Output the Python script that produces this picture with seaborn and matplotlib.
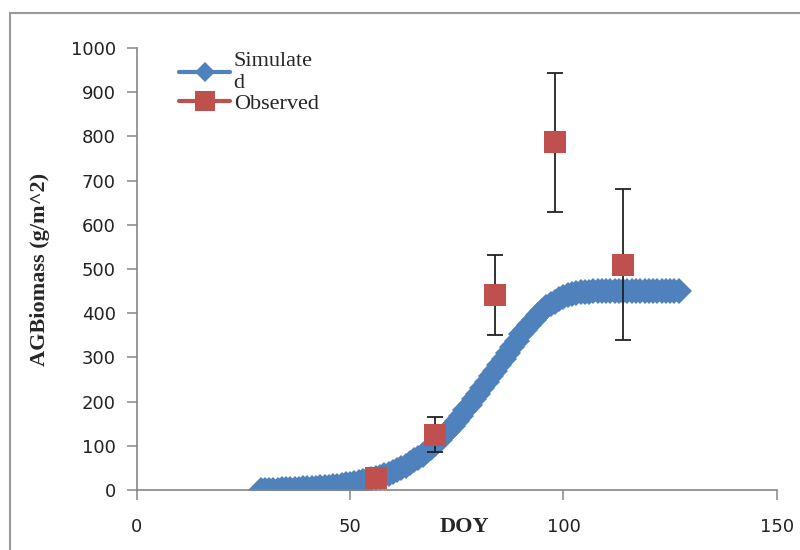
import numpy as np
import pandas as pd
import matplotlib.pyplot as plt
import seaborn as sns
from matplotlib.lines import Line2D

# simulated daily biomass
sim_doy = list(range(29, 128))
sim_biomass = [
    0, 0, 1, 1, 1, 2, 2, 2, 3, 3, 4, 4,
    5, 5, 6, 7, 8, 9, 10, 11, 13, 14,
    16, 18, 20, 22, 24, 27, 30, 33, 37, 41,
    45, 50, 55, 61, 67, 73, 80, 88, 96, 105,
    114, 124, 134, 145, 156, 168, 180, 192, 205, 218,
    231, 244, 257, 270, 283, 296, 310, 324, 338, 352,
    362, 374, 385, 396, 405, 413, 420, 426, 431, 436,
    440, 443, 445, 447, 448, 449, 450, 450, 450, 450,
    450, 450, 450, 450, 450, 450, 450, 450, 450, 450,
    450, 450, 450, 450, 450, 450, 450,
]

# observed samples
obs_doy = [56, 70, 84, 98, 114]
obs_biomass = [27, 125, 441, 786, 510]
obs_err = [0, 40, 90, 158, 170]

blue = "#4F81BD"
red = "#C0504D"

sim = pd.DataFrame({"DOY": sim_doy, "AGB": sim_biomass})
obs = pd.DataFrame({"DOY": obs_doy, "AGB": obs_biomass, "err": obs_err})

sns.set_theme(style="white")
plt.rcParams["font.family"] = ["DejaVu Sans"]

fig = plt.figure(figsize=(8, 5.5), dpi=100)
ax = fig.add_axes([0.171, 0.109, 0.8, 0.804])

sns.lineplot(data=sim, x="DOY", y="AGB", ax=ax, color=blue, marker="D",
             markersize=13, markeredgewidth=0, linewidth=6, zorder=2)
ax.errorbar(obs["DOY"], obs["AGB"], yerr=obs["err"], fmt="none",
            ecolor="#222222", elinewidth=1.3, capsize=6, capthick=1.3, zorder=3)
sns.scatterplot(data=obs, x="DOY", y="AGB", ax=ax, color=red, marker="s",
                s=250, linewidth=0, zorder=4)

ax.set_xlim(0, 150)
ax.set_ylim(0, 1000)
ax.set_xticks([0, 50, 100, 150])
ax.set_yticks(range(0, 1001, 100))

for s in ["top", "right"]:
    ax.spines[s].set_visible(False)
for s in ["left", "bottom"]:
    ax.spines[s].set_color("#868686")
    ax.spines[s].set_linewidth(1.2)

ax.tick_params(axis="y", direction="out", length=7, width=1.1, color="#868686",
               labelsize=13, labelcolor="#222222", pad=8, left=True)
ax.tick_params(axis="x", direction="out", length=7, width=1.1, color="#868686",
               labelsize=13, labelcolor="#222222", pad=13, bottom=True)

ax.set_ylabel("AGBiomass (g/m^2)", family="Liberation Serif",
              fontweight="bold", fontsize=16)
ax.yaxis.set_label_coords(-0.135, 0.5)
ax.set_xlabel("DOY", family="Liberation Serif", fontweight="bold", fontsize=16)
ax.xaxis.set_label_coords(0.512, -0.06)

handles = [
    Line2D([], [], color=blue, marker="D", markersize=10, markeredgewidth=0, linewidth=3),
    Line2D([], [], color=red, marker="s", markersize=15, markeredgewidth=0, linewidth=3),
]
ax.legend(handles, ["Simulate\nd", "Observed"], loc="upper left",
          bbox_to_anchor=(0.035, 1.035), frameon=False, handlelength=2.3,
          handletextpad=0.15, labelspacing=0.0,
          prop={"family": "Liberation Serif", "size": 16})

# outer chart frame (top and left edges visible)
fig.add_artist(Line2D([10 / 800, 10 / 800], [0, 1 - 13 / 550], transform=fig.transFigure,
                      color="#9a9a9a", linewidth=1.5))
fig.add_artist(Line2D([10 / 800, 1], [1 - 13 / 550, 1 - 13 / 550], transform=fig.transFigure,
                      color="#9a9a9a", linewidth=1.5))

fig.savefig("out.png", dpi=100)
